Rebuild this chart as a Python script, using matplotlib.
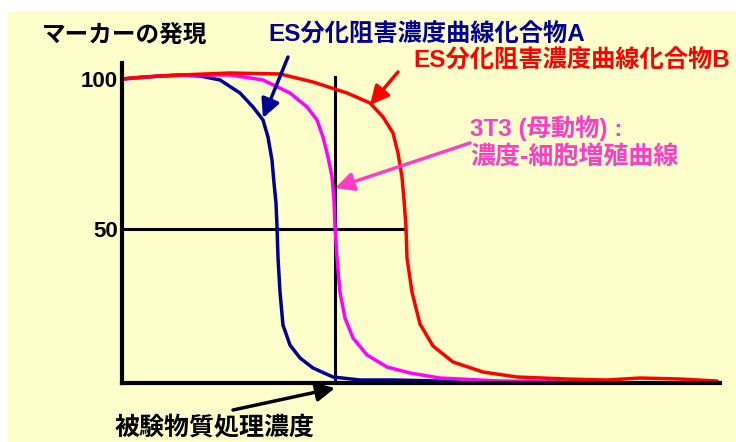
import matplotlib.pyplot as plt
from matplotlib.patches import Rectangle

# curve data (concentration 0-100, marker expression %)
blue_x = [0, 6.35, 9.70, 13.04, 16.39, 19.73, 21.91, 23.58, 24.41, 25.08, 25.42, 25.75, 25.92, 26.09,
          26.42, 26.92, 28.09, 29.77, 31.94, 35.28, 39.80, 45.32, 53.18, 56.52]
blue_y = [100, 101, 101.33, 101, 99.67, 95.33, 90.67, 86.33, 80.67, 73, 65.33, 58.67, 50.67, 40.33,
          29, 18, 11.33, 7, 3.67, 0.67, -0.33, -0.33, -0.67, -1]

mag_x = [0, 6.35, 13.04, 18.06, 23.58, 28.09, 30.94, 32.61, 33.61, 34.45, 35.12, 35.45, 35.62, 35.95,
         36.45, 37.29, 38.63, 40.97, 44.31, 48.16, 53.18, 63.21, 76.09]
mag_y = [100, 101, 101.33, 101.33, 99.67, 95.33, 90.67, 86.33, 80.67, 74, 67.33, 59.67, 50.67, 40.33,
         29, 20.33, 13.67, 8, 4, 2, 0.33, -0.67, -1]

red_x = [0, 3.51, 9.70, 18.06, 26.42, 31.94, 37.63, 41.47, 43.65, 45.32, 46.15, 46.82, 47.16, 47.49,
         47.66, 48.49, 49.83, 52.01, 55.35, 60.37, 66.05, 74.41, 81.10, 86.62, 93.31, 99.50]
red_y = [100, 100.67, 101.33, 102, 101.67, 99, 95.33, 92, 87.33, 82, 75.33, 67.33, 59.67, 50.67,
         40.33, 29, 18.33, 11, 5.67, 2.33, 0.67, 0, -0.33, 0.33, 0, -0.67]

ref_x = 35.6      # test concentration line
half_end = 47.3   # 50% line end

yticks = [50, 100]
ytick_labels = ['50', '100']

navy = '#000099'
pink = '#FF3CC8'
cjk = ['Liberation Sans', 'Noto Sans CJK JP', 'DejaVu Sans']

fig = plt.figure(figsize=(7.36, 4.42), dpi=100, facecolor='white')
fig.patches.append(Rectangle((8 / 736, 0), 1, 1 - 11 / 442, transform=fig.transFigure,
                             facecolor='#FFFFCC', edgecolor='none', zorder=-10))

ax = fig.add_axes([122 / 736, 1 - 383 / 442, (720 - 122) / 736, (383 - 63) / 442])
ax.set_facecolor('none')
ax.set_xlim(0, 100)
ax.set_ylim(-1.33, 105.33)
for s in ['top', 'right']:
    ax.spines[s].set_visible(False)
for s in ['left', 'bottom']:
    ax.spines[s].set_linewidth(3)
ax.set_xticks([])
ax.set_yticks(yticks)
ax.set_yticklabels(ytick_labels, fontsize=16, fontweight='bold', family=cjk)
ax.tick_params(axis='y', length=0, pad=3)

ax.plot([0, half_end], [50, 50], color='black', lw=2.2)
ax.plot([ref_x, ref_x], [-1.3, 100.7], color='black', lw=2.2)

line_kw = dict(lw=2.5, solid_joinstyle='round', solid_capstyle='round')
ax.plot(blue_x, blue_y, color=navy, **line_kw)
ax.plot(mag_x, mag_y, color='#FF00FF', **line_kw)
ax.plot(red_x, red_y, color='red', **line_kw)

# overlay in pixel coordinates for labels and arrows
ov = fig.add_axes([0, 0, 1, 1])
ov.set_xlim(0, 736)
ov.set_ylim(442, 0)
ov.axis('off')
ov.patch.set_alpha(0)

kw = dict(fontweight='bold', family=cjk, va='center', ha='left')
ov.text(42, 35, 'マーカーの発現', color='black', fontsize=17, **kw)
ov.text(268, 35, 'ES分化阻害濃度曲線化合物A', color=navy, fontsize=17.5, **kw)
ov.text(413, 61, 'ES分化阻害濃度曲線化合物B', color='red', fontsize=17.5, **kw)
ov.text(470, 128, '3T3 (母動物) :', color=pink, fontsize=17.5, **kw)
ov.text(470, 157, '濃度-細胞増殖曲線', color=pink, fontsize=18, **kw)
ov.text(115, 428, '被験物質処理濃度', color='black', fontsize=18, **kw)

def arrow(x0, y0, x1, y1, c):
    ov.annotate('', xy=(x1, y1), xytext=(x0, y0),
                arrowprops=dict(arrowstyle='-|>', color=c, lw=2.5, mutation_scale=28,
                                shrinkA=0, shrinkB=0))

arrow(288, 57, 263, 118, navy)
arrow(398, 72, 370, 105, 'red')
arrow(470, 143, 335, 188, pink)
arrow(233, 410, 335, 388, 'black')

fig.savefig('out.png', dpi=100)
